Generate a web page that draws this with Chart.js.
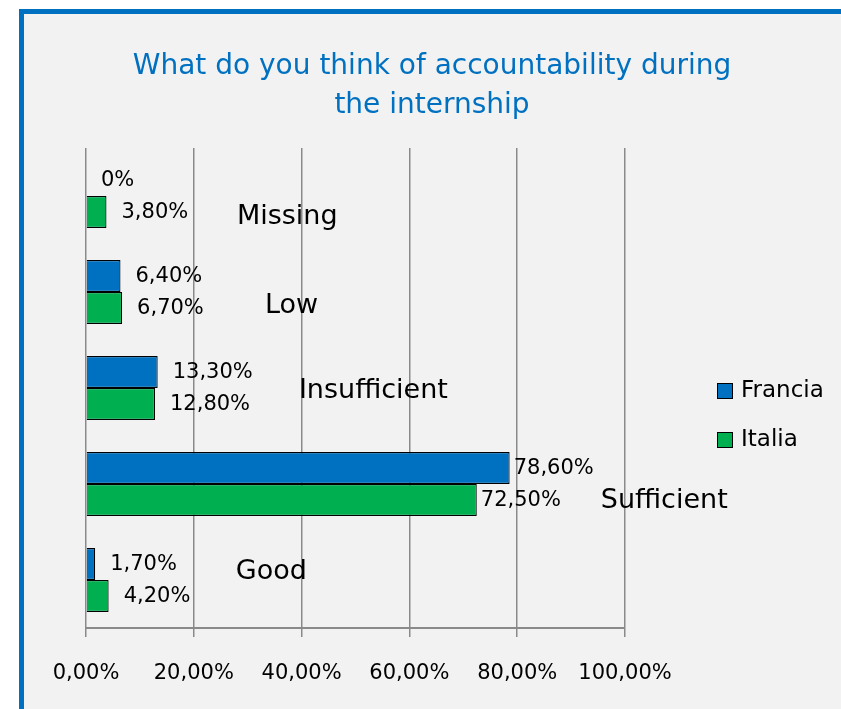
<!DOCTYPE html>
<html>
<head>
<meta charset="utf-8">
<script src="https://cdn.jsdelivr.net/npm/chart.js@4"></script>
<style>
  html, body { margin: 0; padding: 0; background: #ffffff; }
  #frame {
    position: absolute; left: 19px; top: 9px; width: 900px; height: 800px;
    background: #f2f2f2; border-top: 5px solid #0070c0; border-left: 5px solid #0070c0;
  }
  #wrap { position: absolute; left: 0; top: 0; width: 841px; height: 709px; }
</style>
</head>
<body>
<div id="frame"></div>
<div id="wrap"><canvas id="myChart" width="841" height="709"></canvas></div>
<script>
var categories = ['Missing', 'Low', 'Insufficient', 'Sufficient', 'Good'];
var francia = [0, 6.4, 13.3, 78.6, 1.7];
var italia = [3.8, 6.7, 12.8, 72.5, 4.2];
var xTicks = [0, 20, 40, 60, 80, 100];
var seriesNames = ['Francia', 'Italia'];
var titleLines = ['What do you think of accountability during', 'the internship'];

// where the category names sit: [value on x axis, pixel shift from band centre]
var catLabelAt = [[28, 21], [33.2, 14], [39.5, 3], [95.5, 17], [27.8, -8]];

var BLUE = '#0070c0';
var GREEN = '#00b050';
var FONT = '"DejaVu Sans", sans-serif';

function pct(v) {
  if (v === 0) return '0%';
  return v.toFixed(2).replace('.', ',') + '%';
}

var extras = {
  id: 'extras',
  afterDatasetsDraw: function (chart) {
    var ctx = chart.ctx;
    var xs = chart.scales.x, ys = chart.scales.y;
    ctx.save();
    ctx.fillStyle = '#000';
    ctx.textBaseline = 'middle';
    ctx.textAlign = 'left';
    ctx.font = '21px ' + FONT;
    chart.data.datasets.forEach(function (ds, di) {
      chart.getDatasetMeta(di).data.forEach(function (bar, i) {
        var v = ds.data[i];
        var off = v > 50 ? 4 : 15;
        ctx.fillText(pct(v), bar.x + off, bar.y + 1);
      });
    });
    ctx.font = '27px ' + FONT;
    categories.forEach(function (c, i) {
      var p = catLabelAt[i];
      ctx.fillText(c, xs.getPixelForValue(p[0]), ys.getPixelForValue(i) + p[1]);
    });

    // title
    ctx.fillStyle = BLUE;
    ctx.textAlign = 'center';
    ctx.font = '28px ' + FONT;
    ctx.fillText(titleLines[0], 432, 67);
    ctx.fillText(titleLines[1], 432, 106);

    // legend
    ctx.textAlign = 'left';
    ctx.font = '23px ' + FONT;
    var cols = [BLUE, GREEN];
    seriesNames.forEach(function (n, k) {
      var cy = 391 + k * 49;
      ctx.fillStyle = cols[k];
      ctx.fillRect(717, cy - 8, 16, 16);
      ctx.strokeStyle = '#000';
      ctx.lineWidth = 1;
      ctx.strokeRect(717.5, cy - 7.5, 15, 15);
      ctx.fillStyle = '#000';
      ctx.fillText(n, 741, cy);
    });
    ctx.restore();
  }
};

new Chart('myChart', {
  type: 'bar',
  data: {
    labels: categories,
    datasets: [
      { label: seriesNames[0], data: francia, backgroundColor: BLUE, borderColor: '#000000', borderWidth: 1.2 },
      { label: seriesNames[1], data: italia, backgroundColor: GREEN, borderColor: '#000000', borderWidth: 1.2 }
    ]
  },
  options: {
    indexAxis: 'y',
    responsive: false,
    animation: false,
    layout: { padding: { top: 148, left: 0, right: 216, bottom: 0 } },
    plugins: { legend: { display: false }, title: { display: false }, tooltip: { enabled: false } },
    datasets: { bar: { categoryPercentage: 0.665, barPercentage: 1 } },
    scales: {
      x: {
        min: 0, max: 100,
        afterBuildTicks: function (s) { s.ticks = xTicks.map(function (v) { return { value: v }; }); },
        afterFit: function (s) { s.height = 81; },
        grid: { color: '#8a8a8a', lineWidth: 1.5, tickLength: 9, drawTicks: true },
        border: { display: true, color: '#8a8a8a', width: 2 },
        ticks: {
          padding: 24, color: '#000', font: { family: FONT, size: 21 },
          maxRotation: 0,
          callback: function (v) { return v.toFixed(2).replace('.', ',') + '%'; }
        }
      },
      y: {
        afterFit: function (s) { s.width = 86; },
        grid: { display: false },
        border: { display: false },
        ticks: { display: false }
      }
    }
  },
  plugins: [extras]
});
</script>
</body>
</html>
